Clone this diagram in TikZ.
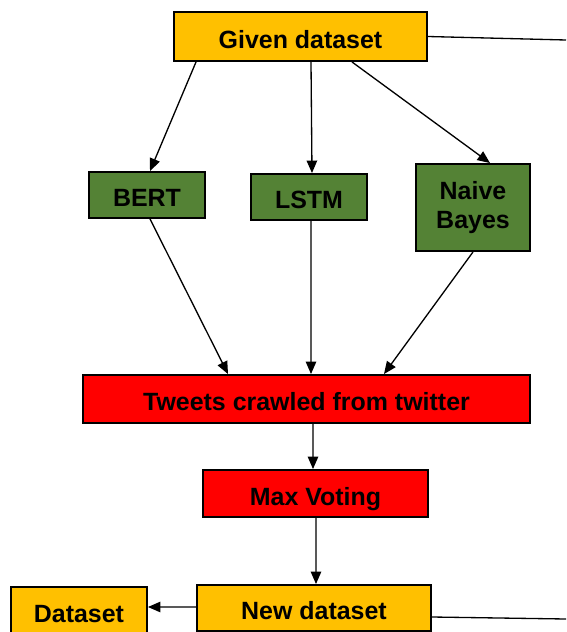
\documentclass[tikz,border=0pt]{standalone}
\usepackage{fontspec}
\setmainfont{Liberation Sans}
\usetikzlibrary{arrows.meta}
\definecolor{dataorange}{RGB}{255,192,0}
\definecolor{modelgreen}{RGB}{84,130,53}
\definecolor{stepred}{RGB}{255,0,0}
\begin{document}
\begin{tikzpicture}[x=0.02cm,y=-0.02cm,
	box_node/.style={rectangle,draw,line width=1.1pt,inner sep=2pt,align=center,font=\fontsize{14.2}{17}\selectfont\bfseries},
	one_line/.style={text height=15pt,text depth=1.4pt},
	data_node/.style={box_node,one_line,fill=dataorange},
	model_node/.style={box_node,fill=modelgreen},
	step_node/.style={box_node,one_line,fill=stepred},
	link/.style={line width=0.75pt,-{Triangle[length=0.25cm,width=0.21cm]}}]

		\useasboundingbox (0,0) rectangle (566,632);

		\node[data_node,minimum width=5.06cm,minimum height=0.98cm] (given) at (300.5,36.5){Given dataset};
		% the three models
		\node[model_node,one_line,minimum width=2.32cm,minimum height=0.92cm] (bert) at (147,195){BERT};
		\node[model_node,one_line,minimum width=2.32cm,minimum height=0.92cm] (lstm) at (309,197){LSTM};
		\node[model_node,minimum width=2.28cm,minimum height=1.74cm] (naive) at (473,207.5){Naive\\Bayes};
		\node[step_node,minimum width=8.94cm,minimum height=0.96cm] (tweets) at (306.5,399){Tweets crawled from twitter};
		\node[step_node,minimum width=4.5cm,minimum height=0.94cm] (vote) at (315.5,493.5){Max Voting};
		\node[data_node,minimum width=4.68cm,minimum height=0.92cm] (new) at (314,608){New dataset};
		\node[data_node,minimum width=2.72cm,minimum height=0.94cm] (dataset) at (79,610.5){Dataset};
		% loose ends of the lines leaving the right side
		\coordinate (given_out) at (566,40);
		\coordinate (new_out) at (566,619);

		\path[link]
		([xshift=-2.09cm]given.south) edge node {} ([xshift=0.06cm]bert.north)
		([xshift=0.21cm]given.south) edge node {} ([xshift=0.06cm]lstm.north)
		([xshift=1.03cm]given.south) edge node {} ([xshift=0.34cm]naive.north)
		([xshift=0.06cm]bert.south) edge node {} ([xshift=-1.57cm]tweets.north)
		([xshift=0.04cm]lstm.south) edge node {} ([xshift=0.09cm]tweets.north)
		(naive.south) edge node {} ([xshift=1.55cm]tweets.north)
		([xshift=0.13cm]tweets.south) edge node {} ([xshift=-0.05cm]vote.north)
		([xshift=0.01cm]vote.south) edge node {} ([xshift=0.04cm]new.north)
		([yshift=0.02cm]new.west) edge node {} ([yshift=0.07cm]dataset.east)
		;

		\path[draw,line width=0.75pt]
		(given.east) edge node {} (given_out)
		([yshift=-0.18cm]new.east) edge node {} (new_out)
		;

	\end{tikzpicture}
\end{document}
